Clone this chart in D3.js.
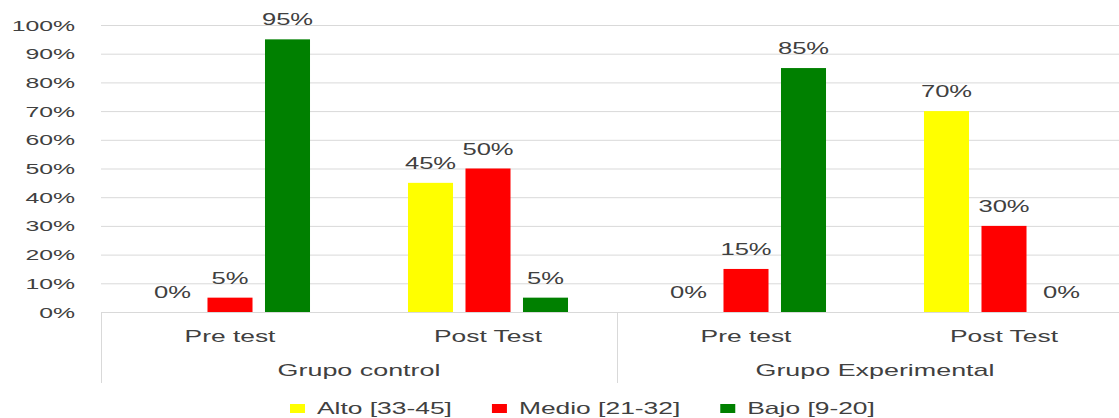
<!DOCTYPE html>
<html>
<head>
<meta charset="utf-8">
<script src="https://cdn.jsdelivr.net/npm/d3@7"></script>
<style>
  html, body { margin: 0; padding: 0; background: #fff; }
  svg { display: block; }
  text { font-family: "Liberation Sans", Arial, sans-serif; fill: #404040; }
</style>
</head>
<body>
<svg id="chart"></svg>
<script>
// Data.
const groups = ['Grupo control', 'Grupo Experimental'];
const tests = ['Pre test', 'Post Test'];
const seriesNames = ['Alto [33-45]', 'Medio [21-32]', 'Bajo [9-20]'];
const seriesColors = ['#ffff00', '#ff0000', '#008000'];
const alto = [0, 45, 0, 70];
const medio = [5, 50, 15, 30];
const bajo = [95, 5, 85, 0];
const yTicks = [0, 10, 20, 30, 40, 50, 60, 70, 80, 90, 100];

const width = 1119;
const height = 418;
// The reference text is stretched sideways.
const SX = 1.6;

const svg = d3.select('#chart').attr('width', width).attr('height', height);

// Category keys: one per (group, test).
const cats = [];
groups.forEach((g, gi) => tests.forEach((t, ti) => cats.push({group: g, test: t, i: gi * tests.length + ti})));
const values = [alto, medio, bajo];

const xScale = d3.scaleBand().domain(cats.map(d => d.i)).range([101, 1133]).padding(0);
const xInner = d3.scaleBand().domain(seriesNames).range([0, xScale.bandwidth()])
    .paddingInner(0.217).paddingOuter(0.852);
const yScale = d3.scaleLinear().domain([0, 100]).range([312, 25]);

function label(sel, x, y, str, size, anchor) {
  return sel.append('text')
      .attr('transform', `translate(${x},${y}) scale(${SX},1)`)
      .attr('text-anchor', anchor)
      .style('font-size', size + 'px')
      .text(str);
}

// Gridlines.
const grid = svg.append('g');
yTicks.forEach(t => {
  grid.append('line')
      .attr('x1', 101).attr('x2', 1133)
      .attr('y1', yScale(t) + 0.5).attr('y2', yScale(t) + 0.5)
      .attr('stroke', '#d9d9d9').attr('stroke-width', 1);
  label(svg, 75, yScale(t) + 5.5, t + '%', 15.5, 'end');
});

// Group separators below the baseline.
const seps = [0, tests.length, cats.length].map(i =>
    i < cats.length ? xScale(i) : xScale(cats.length - 1) + xScale.bandwidth());
seps.forEach(x => {
  svg.append('line')
      .attr('x1', x + 0.5).attr('x2', x + 0.5)
      .attr('y1', yScale(0)).attr('y2', 383)
      .attr('stroke', '#d9d9d9').attr('stroke-width', 1);
});

// Bars.
seriesNames.forEach((s, si) => {
  const g = svg.append('g');
  cats.forEach(c => {
    const v = values[si][c.i];
    const x = xScale(c.i) + xInner(s);
    g.append('rect')
        .attr('x', x).attr('width', xInner.bandwidth())
        .attr('y', yScale(v)).attr('height', yScale(0) - yScale(v))
        .attr('fill', seriesColors[si]);
    label(svg, x + xInner.bandwidth() / 2, yScale(v) - 14, v + '%', 16, 'middle');
  });
});

// Category labels.
cats.forEach(c => {
  label(svg, xScale(c.i) + xScale.bandwidth() / 2, 342, c.test, 16.5, 'middle');
});
groups.forEach((g, gi) => {
  const x0 = xScale(gi * tests.length);
  const x1 = xScale(gi * tests.length + tests.length - 1) + xScale.bandwidth();
  label(svg, (x0 + x1) / 2, 376, g, 16.8, 'middle');
});

// Legend.
let lx = 290;
seriesNames.forEach((s, si) => {
  svg.append('rect')
      .attr('x', lx).attr('y', 404).attr('width', 15).attr('height', 9)
      .attr('fill', seriesColors[si]);
  const t = label(svg, lx + 27, 414, s, 16.5, 'start');
  const w = t.node().getComputedTextLength() * SX;
  lx += 27 + w + 40;
});
</script>
</body>
</html>
